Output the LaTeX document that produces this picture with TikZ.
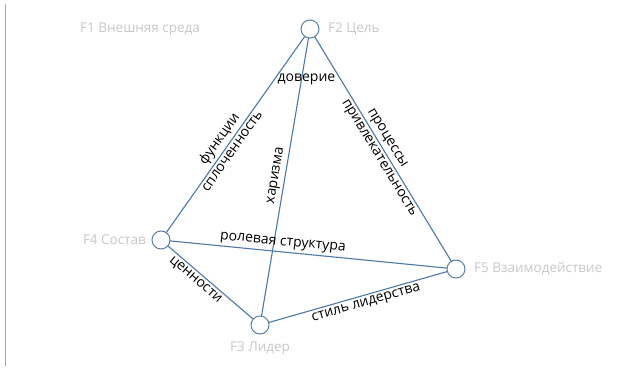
\documentclass[tikz,border=0pt]{standalone}
\usepackage{fontspec}
\setmainfont{Open Sans}
\definecolor{edgeblue}{HTML}{4C78AA}
\definecolor{ringblue}{HTML}{5D7FA6}
\definecolor{ghost}{HTML}{C8C8C8}
\tikzset{
  vertex/.style={circle,draw=ringblue,fill=white,line width=1pt,minimum size=18pt,inner sep=0pt},
  conn/.style={draw=edgeblue,line width=1.1pt},
  lab/.style={font=\fontsize{14}{16}\selectfont,text=black,inner sep=2.6pt},
  nlab/.style={font=\fontsize{13.5}{15}\selectfont,text=ghost,inner sep=0pt}
}
\begin{document}
\begin{tikzpicture}[x=1pt,y=-1pt]
\useasboundingbox[fill=white] (0,0) rectangle (628,371);
\draw[gray!70,line width=0.8pt] (5.5,4) -- (5.5,366);
\coordinate (c2) at (310,29);
\coordinate (c4) at (161,240);
\coordinate (c5) at (456,269);
\coordinate (c3) at (260,325);
% edges first
\path[conn] (c4) -- node[lab,sloped,above,pos=0.45] {функции} node[lab,sloped,below,pos=0.44] {сплоченность} (c2);
\path[conn] (c3) -- node[lab,sloped,above,pos=0.5] {харизма} node[lab,pos=0.83,xshift=5pt] {доверие} (c2);
\path[conn] (c2) -- node[lab,sloped,above,pos=0.475] {процессы} node[lab,sloped,below,pos=0.52] {привлекательность} (c5);
\path[conn] (c4) -- node[lab,sloped,above,pos=0.41] {ролевая структура} (c5);
\path[conn] (c4) -- node[lab,sloped,below,pos=0.4] {ценности} (c3);
\path[conn] (c3) -- node[lab,sloped,below,pos=0.53] {стиль лидерства} (c5);
% vertices
\node[vertex] (F2) at (c2) {};
\node[vertex] (F4) at (c4) {};
\node[vertex] (F5) at (c5) {};
\node[vertex] (F3) at (c3) {};
\node[nlab,anchor=west] (t1) at (80,29) {F1 Внешняя среда};
\node[nlab,anchor=west] (t2) at (328,29) {F2 Цель};
\node[nlab,anchor=east] (t4) at (146,240) {F4 Состав};
\node[nlab,anchor=west] (t5) at (474,269) {F5 Взаимодействие};
\node[nlab] (t3) at (260,348) {F3 Лидер};
\end{tikzpicture}
\end{document}
